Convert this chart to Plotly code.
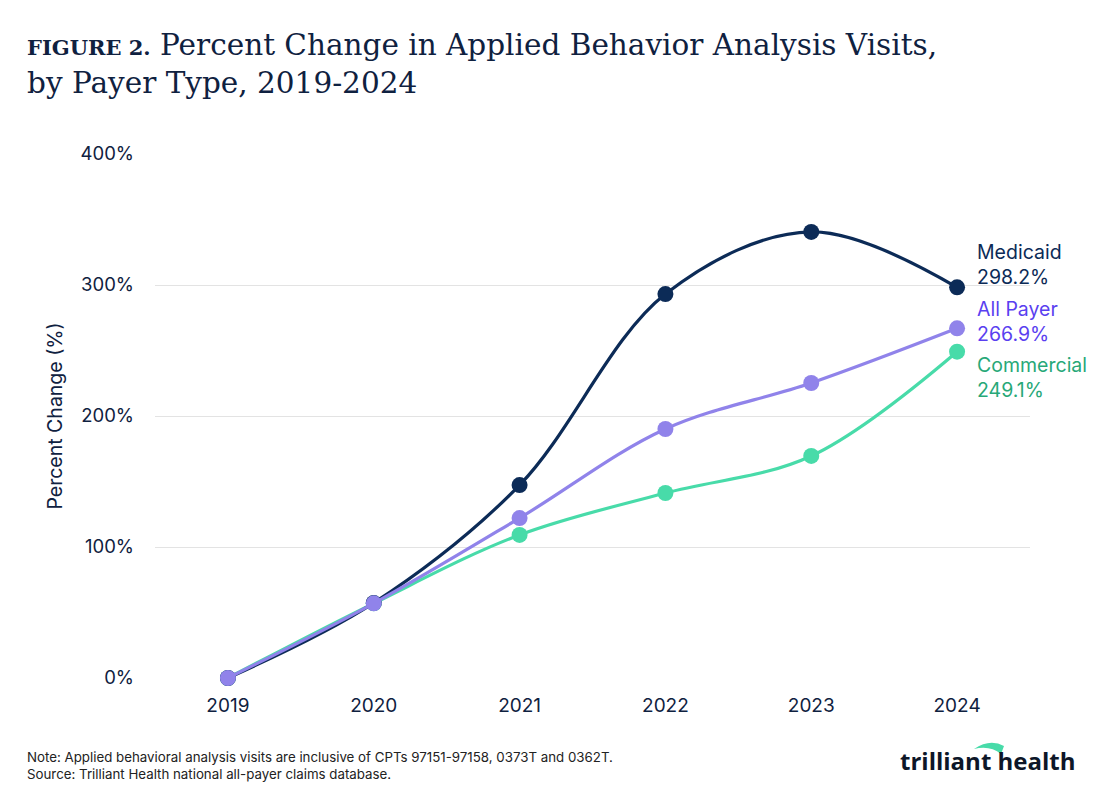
import plotly.graph_objects as go

years = ["2019", "2020", "2021", "2022", "2023", "2024"]
medicaid = [0, 57.3, 147.3, 293.1, 340.5, 298.2]
all_payer = [0, 57.0, 122.1, 190.1, 225.2, 266.9]
commercial = [0, 57.0, 109.2, 141.2, 169.5, 249.1]

series = [
    ("Commercial", commercial, "#48dba9", "#27a878", -26),
    ("Medicaid", medicaid, "#0c2b57", "#0c2b57", 23),
    ("All Payer", all_payer, "#9083ea", "#5a3ff0", 7),
]

SANS = "Inter, 'Open Sans', sans-serif"
SERIF = "'DejaVu Serif', serif"
NAVY = "#0f2140"

# plot area in page pixels (for placing free text)
PX0, PX1, PY0, PY1 = 155, 1030, 678, 154
def px(X):
    return (X - PX0) / (PX1 - PX0)
def py(Y):
    return (PY0 - Y) / (PY0 - PY1)

fig = go.Figure()
for name, vals, col, _, _ in series:
    fig.add_trace(go.Scatter(
        x=years, y=vals, mode="lines+markers", name=name,
        line=dict(color=col, width=3.2, shape="spline", smoothing=1.0),
        marker=dict(color=col, size=16),
        cliponaxis=False, showlegend=False,
    ))

for name, vals, _, tcol, shift in series:
    fig.add_annotation(
        x=len(years) - 1, y=vals[-1], xref="x", yref="y",
        text=f"{name}<br>{vals[-1]:.1f}%", showarrow=False,
        xanchor="left", yanchor="middle", xshift=18, yshift=shift,
        align="left", font=dict(family=SANS, size=19.5, color=tcol),
    )

fig.add_annotation(
    x=px(25), y=py(26), xref="paper", yref="paper", xanchor="left", yanchor="top",
    text="<b><span style='font-size:21px'>FIGURE 2.</span></b> Percent Change in Applied Behavior Analysis Visits,<br>by Payer Type, 2019-2024",
    showarrow=False, align="left",
    font=dict(family=SERIF, size=29.5, color=NAVY),
)

fig.add_annotation(
    x=px(25), y=py(747), xref="paper", yref="paper", xanchor="left", yanchor="top",
    text="Note: Applied behavioral analysis visits are inclusive of CPTs 97151-97158, 0373T and 0362T.<br>Source: Trilliant Health national all-payer claims database.",
    showarrow=False, align="left",
    font=dict(family=SANS, size=13.3, color="#222222"),
)

fig.add_annotation(
    x=px(1078), y=py(760), xref="paper", yref="paper", xanchor="right", yanchor="middle",
    text="<b>trilliant health</b>", showarrow=False,
    font=dict(family="'Open Sans', sans-serif", size=24, color="#0d1628"),
)
fig.add_shape(
    type="path", xref="paper", yref="paper",
    path=(f"M {px(974)} {py(749)} Q {px(990)} {py(738)} {px(1004)} {py(746)} "
          f"L {px(1001)} {py(754)} Q {px(990)} {py(745)} {px(974)} {py(749)} Z"),
    fillcolor="#48dba9", line=dict(width=0),
)

fig.update_layout(
    width=1120, height=801,
    paper_bgcolor="white", plot_bgcolor="white",
    margin=dict(l=147, r=98, t=146, b=131),
    xaxis=dict(
        range=[-0.5, 5.5], type="category", showgrid=False, zeroline=False,
        showline=False, ticks="", ticklabelstandoff=14,
        tickfont=dict(family=SANS, size=19, color=NAVY),
    ),
    yaxis=dict(
        range=[0, 400], tickvals=[0, 100, 200, 300, 400],
        ticktext=["0%", "100%", "200%", "300%", "400%"],
        showgrid=True, gridcolor="#e3e3e3", gridwidth=1.2,
        zeroline=False, showline=False, ticklabelstandoff=20,
        tickfont=dict(family=SANS, size=18.5, color=NAVY),
        title=dict(text="Percent Change (%)", standoff=12,
                   font=dict(family=SANS, size=19.5, color=NAVY)),
    ),
)

fig.write_html("out.html")
